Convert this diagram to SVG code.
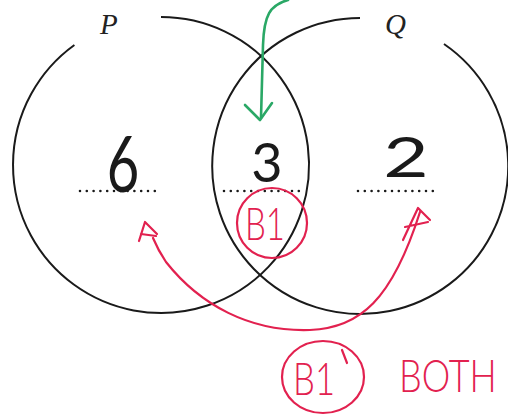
<svg xmlns="http://www.w3.org/2000/svg" width="508" height="416" viewBox="0 0 508 416">
<style>
.set{fill:none;stroke:#1a1a1a;stroke-width:2}
.lbl{font-family:"Liberation Serif",serif;font-style:italic;font-size:29px;fill:#222}
.num{font-family:"Lato","Liberation Sans",sans-serif;fill:#1a1a1a}
.dots{stroke:#1a1a1a;stroke-width:2.6;stroke-linecap:round;stroke-dasharray:0 6.8}
.red{fill:none;stroke:#e2214f;stroke-width:2.2;stroke-linecap:round;stroke-linejoin:round}
.redt{font-family:"Lato","Liberation Sans",sans-serif;font-weight:300;fill:#e2214f}
.grn{fill:none;stroke:#2aa866;stroke-width:2.6;stroke-linecap:round;stroke-linejoin:round}
</style>
<rect width="508" height="416" fill="#fff"/>
<g id="set-P">
<path class="set" d="M161,17 A148,148 0 1 1 74.4,45"/>
<text class="lbl" x="100" y="34">P</text>
</g>
<g id="set-Q">
<path class="set" d="M444,44 A148,148 0 1 1 360,18"/>
<text class="lbl" x="385" y="34">Q</text>
</g>
<g id="region-P-only">
<text class="num" font-size="78" transform="translate(123,192) scale(0.72,1)" text-anchor="middle">6</text>
<line class="dots" x1="80" y1="191" x2="156" y2="191"/>
</g>
<g id="region-both">
<text class="num" font-size="54" x="267" y="182" text-anchor="middle">3</text>
<line class="dots" x1="224" y1="191" x2="299" y2="191"/>
</g>
<g id="region-Q-only">
<text class="num" font-size="56" transform="translate(406,177) scale(1.4,1)" text-anchor="middle">2</text>
<line class="dots" x1="358" y1="191" x2="434" y2="191"/>
</g>
<g id="mark-B1-middle">
<ellipse class="red" cx="272" cy="223" rx="35" ry="35"/>
<text class="redt" font-size="46" x="245" y="240" textLength="40" lengthAdjust="spacingAndGlyphs">B1</text>
</g>
<g id="mark-B1-both">
<ellipse class="red" cx="323" cy="377" rx="41" ry="36"/>
<path class="red" d="M342,350 L347,363"/>
<text class="redt" font-size="46" x="293" y="395" textLength="42" lengthAdjust="spacingAndGlyphs">B1</text>
<text class="redt" font-size="36" transform="translate(399,392) scale(1,1.25)">BOTH</text>
</g>
<g id="connectors">
<path class="grn" d="M288,0 C270,5 264,15 263,45 L261,118"/>
<path class="grn" d="M245,105 L260,120 L272,103"/>
<path class="red" d="M153,238 C158,250 162,256 166,262 C200,305 250,332 310,330 C360,328 392,300 420,212"/>
<path class="red" d="M139,241 L145,222 L157,234 M141,234 L156,236"/>
<path class="red" d="M403,240 L418,208 L430,220 M405,227 L428,222"/>
</g>
</svg>
